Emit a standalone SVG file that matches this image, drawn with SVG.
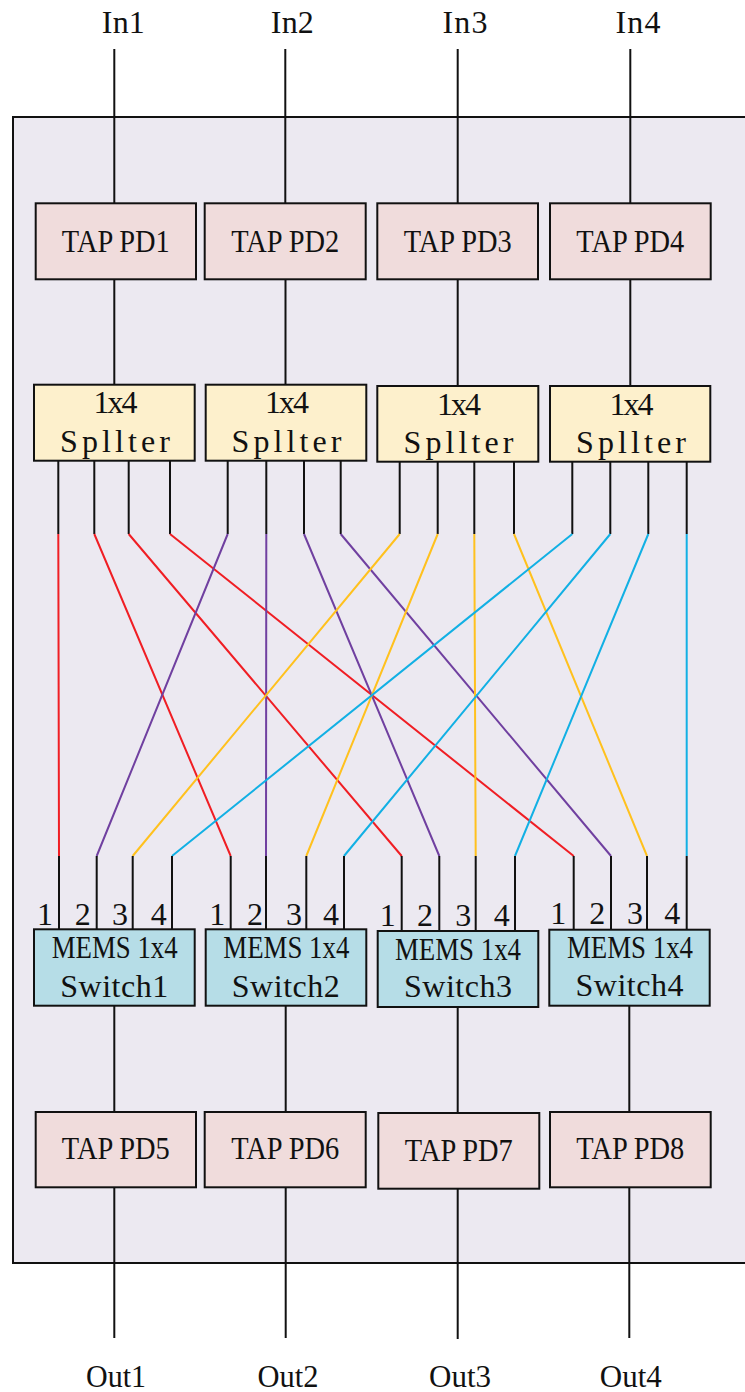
<svg xmlns="http://www.w3.org/2000/svg" width="745" height="1392" viewBox="0 0 745 1392">
  <style>
    .t { font-family: "Liberation Serif", "DejaVu Serif", serif; font-size: 32px; fill: #111; text-anchor: middle; }
    .tap { fill: #f0dcdc; stroke: #111; stroke-width: 2; }
    .spl { fill: #fdf0cc; stroke: #111; stroke-width: 2; }
    .sw { fill: #b6dde7; stroke: #111; stroke-width: 2; }
    .k { stroke: #111; stroke-width: 2; fill: none; }
    .r { stroke: #f01e24; stroke-width: 2; fill: none; }
    .p { stroke: #7040a0; stroke-width: 2; fill: none; }
    .o { stroke: #ffc11e; stroke-width: 2; fill: none; }
    .b { stroke: #12b0e4; stroke-width: 2; fill: none; }
  </style>

  <!-- white page and housing -->
  <rect x="0" y="0" width="745" height="1392" fill="#ffffff"/>
  <rect id="housing" x="13" y="117" width="760" height="1146" fill="#ece9f1" stroke="#111" stroke-width="2"/>

  <!-- connectors -->
  <g id="connectors">
    <!-- inputs to top TAP PDs -->
    <line class="k" x1="114.3" y1="49" x2="114.3" y2="203"/>
    <line class="k" x1="285.3" y1="49" x2="285.3" y2="203"/>
    <line class="k" x1="457.7" y1="49" x2="457.7" y2="203"/>
    <line class="k" x1="630.3" y1="49" x2="630.3" y2="203"/>
    <!-- TAP PDs to splitters -->
    <line class="k" x1="114.3" y1="279" x2="114.3" y2="385"/>
    <line class="k" x1="285.5" y1="279" x2="285.5" y2="385"/>
    <line class="k" x1="457.7" y1="279" x2="457.7" y2="386"/>
    <line class="k" x1="630.3" y1="279" x2="630.3" y2="386"/>

    <!-- splitter output stubs -->
    <path class="k" d="M58.3 461V534M94.3 461V534M128.7 461V534M170 461V534
                       M227.7 461V534M266.3 461V534M304 461V534M340.7 461V534
                       M399.7 462V534M437.7 462V534M474.3 462V534M514 462V534
                       M572.3 462V534M610.3 462V534M648.3 462V534M686.7 462V534"/>

    <!-- splitter 1 fibres (red) -->
    <path class="r" d="M58.3 534L59 856M94.3 534L230.7 856M128.7 534L401.7 856M170 534L573.7 856"/>
    <!-- splitter 2 fibres (purple) -->
    <path class="p" d="M227.7 534L96.7 856M266.3 534L266 856M304 534L439.3 856M340.7 534L611 856"/>
    <!-- splitter 3 fibres (orange) -->
    <path class="o" d="M399.7 534L132.7 856M437.7 534L306.3 856M474.3 534L475.7 856M514 534L647 856"/>
    <!-- splitter 4 fibres (blue) -->
    <path class="b" d="M572.3 534L172 856M610.3 534L344 856M648.3 534L515 856M686.7 534L686.7 856"/>

    <!-- switch input stubs -->
    <path class="k" d="M59 856V929M96.7 856V929M132.7 856V929M172 856V929
                       M230.7 856V929M266 856V929M306.3 856V929M344 856V929
                       M401.7 856V931M439.3 856V931M475.7 856V931M515 856V931
                       M573.7 856V930M611 856V930M647 856V930M686.7 856V930"/>

    <!-- switches to bottom TAP PDs -->
    <line class="k" x1="114.3" y1="1006" x2="114.3" y2="1112"/>
    <line class="k" x1="285.7" y1="1006" x2="285.7" y2="1112"/>
    <line class="k" x1="457.7" y1="1007" x2="457.7" y2="1113"/>
    <line class="k" x1="629.3" y1="1006" x2="629.3" y2="1112"/>
    <!-- bottom TAP PDs to outputs -->
    <line class="k" x1="114.3" y1="1187" x2="114.3" y2="1338"/>
    <line class="k" x1="285.7" y1="1187" x2="285.7" y2="1338"/>
    <line class="k" x1="457.7" y1="1189" x2="457.7" y2="1339"/>
    <line class="k" x1="629.3" y1="1187" x2="629.3" y2="1338"/>
  </g>

  <!-- input / output labels -->
  <g id="in1"><text class="t" x="123.3" y="33.3" textLength="43" lengthAdjust="spacing">In1</text></g>
  <g id="in2"><text class="t" x="292.3" y="33.3" textLength="43" lengthAdjust="spacing">In2</text></g>
  <g id="in3"><text class="t" x="465" y="33.3" textLength="45" lengthAdjust="spacing">In3</text></g>
  <g id="in4"><text class="t" x="638" y="33.3" textLength="45" lengthAdjust="spacing">In4</text></g>

  <g id="out1"><text class="t" x="116" y="1386.7" textLength="60" lengthAdjust="spacingAndGlyphs">Out1</text></g>
  <g id="out2"><text class="t" x="288" y="1386.7" textLength="61" lengthAdjust="spacingAndGlyphs">Out2</text></g>
  <g id="out3"><text class="t" x="460" y="1386.7" textLength="62" lengthAdjust="spacingAndGlyphs">Out3</text></g>
  <g id="out4"><text class="t" x="630.8" y="1386.7" textLength="62" lengthAdjust="spacingAndGlyphs">Out4</text></g>

  <!-- top TAP PDs -->
  <g id="tap-pd1"><rect class="tap" x="35.7" y="203.3" width="160.3" height="76"/>
    <text class="t" x="115.8" y="251.7" textLength="108" lengthAdjust="spacingAndGlyphs">TAP PD1</text></g>
  <g id="tap-pd2"><rect class="tap" x="204.7" y="203.3" width="161" height="76"/>
    <text class="t" x="285.2" y="251.7" textLength="108" lengthAdjust="spacingAndGlyphs">TAP PD2</text></g>
  <g id="tap-pd3"><rect class="tap" x="377.3" y="203.3" width="160.7" height="76"/>
    <text class="t" x="457.7" y="251.7" textLength="108" lengthAdjust="spacingAndGlyphs">TAP PD3</text></g>
  <g id="tap-pd4"><rect class="tap" x="550" y="203.3" width="160.7" height="76"/>
    <text class="t" x="630.3" y="251.7" textLength="108" lengthAdjust="spacingAndGlyphs">TAP PD4</text></g>

  <!-- splitters -->
  <g id="splitter1"><rect class="spl" x="34" y="384.7" width="160.7" height="76"/>
    <text class="t" x="115.5" y="413.3" textLength="44" lengthAdjust="spacing">1x4</text>
    <text class="t" x="115" y="451.7" textLength="110" lengthAdjust="spacing">Spllter</text></g>
  <g id="splitter2"><rect class="spl" x="205.7" y="384.7" width="160.6" height="76"/>
    <text class="t" x="287" y="413.3" textLength="44" lengthAdjust="spacing">1x4</text>
    <text class="t" x="286.5" y="451.7" textLength="110" lengthAdjust="spacing">Spllter</text></g>
  <g id="splitter3"><rect class="spl" x="377.3" y="386" width="161" height="75.7"/>
    <text class="t" x="459" y="415" textLength="44" lengthAdjust="spacing">1x4</text>
    <text class="t" x="458.5" y="452.7" textLength="110" lengthAdjust="spacing">Spllter</text></g>
  <g id="splitter4"><rect class="spl" x="550" y="386" width="160.3" height="75.7"/>
    <text class="t" x="631.5" y="415" textLength="44" lengthAdjust="spacing">1x4</text>
    <text class="t" x="631" y="452.7" textLength="110" lengthAdjust="spacing">Spllter</text></g>

  <!-- MEMS switches with port numbers -->
  <g id="switch1"><rect class="sw" x="34" y="929.3" width="160.7" height="76.4"/>
    <text class="t" x="114.7" y="958.3" textLength="126" lengthAdjust="spacingAndGlyphs">MEMS 1x4</text>
    <text class="t" x="114.2" y="996.7" textLength="108" lengthAdjust="spacing">Switch1</text>
    <text class="t" x="45" y="925">1</text><text class="t" x="82.7" y="925">2</text>
    <text class="t" x="120" y="925">3</text><text class="t" x="158.7" y="925">4</text></g>
  <g id="switch2"><rect class="sw" x="205.7" y="929.3" width="160.6" height="76.4"/>
    <text class="t" x="286.3" y="958.3" textLength="126" lengthAdjust="spacingAndGlyphs">MEMS 1x4</text>
    <text class="t" x="285.8" y="996.7" textLength="108" lengthAdjust="spacing">Switch2</text>
    <text class="t" x="217.3" y="925">1</text><text class="t" x="255" y="925">2</text>
    <text class="t" x="294" y="925">3</text><text class="t" x="331" y="925">4</text></g>
  <g id="switch3"><rect class="sw" x="377.7" y="931" width="160.6" height="76"/>
    <text class="t" x="458" y="960" textLength="126" lengthAdjust="spacingAndGlyphs">MEMS 1x4</text>
    <text class="t" x="458" y="997.3" textLength="108" lengthAdjust="spacing">Switch3</text>
    <text class="t" x="387.7" y="926">1</text><text class="t" x="425" y="926">2</text>
    <text class="t" x="463.3" y="926">3</text><text class="t" x="501.7" y="926">4</text></g>
  <g id="switch4"><rect class="sw" x="549.3" y="929.7" width="160.4" height="76"/>
    <text class="t" x="630" y="958.3" textLength="126" lengthAdjust="spacingAndGlyphs">MEMS 1x4</text>
    <text class="t" x="629.5" y="996" textLength="108" lengthAdjust="spacing">Switch4</text>
    <text class="t" x="558.3" y="924">1</text><text class="t" x="597.3" y="924">2</text>
    <text class="t" x="635" y="924">3</text><text class="t" x="672.3" y="924">4</text></g>

  <!-- bottom TAP PDs -->
  <g id="tap-pd5"><rect class="tap" x="35.7" y="1112" width="160.3" height="75.3"/>
    <text class="t" x="115.8" y="1159.3" textLength="108" lengthAdjust="spacingAndGlyphs">TAP PD5</text></g>
  <g id="tap-pd6"><rect class="tap" x="204.7" y="1112" width="161" height="75.3"/>
    <text class="t" x="285.2" y="1159.3" textLength="108" lengthAdjust="spacingAndGlyphs">TAP PD6</text></g>
  <g id="tap-pd7"><rect class="tap" x="378.3" y="1113" width="161" height="75.7"/>
    <text class="t" x="458.8" y="1160.5" textLength="108" lengthAdjust="spacingAndGlyphs">TAP PD7</text></g>
  <g id="tap-pd8"><rect class="tap" x="550" y="1112" width="160.7" height="75.3"/>
    <text class="t" x="630.3" y="1159.3" textLength="108" lengthAdjust="spacingAndGlyphs">TAP PD8</text></g>
</svg>
